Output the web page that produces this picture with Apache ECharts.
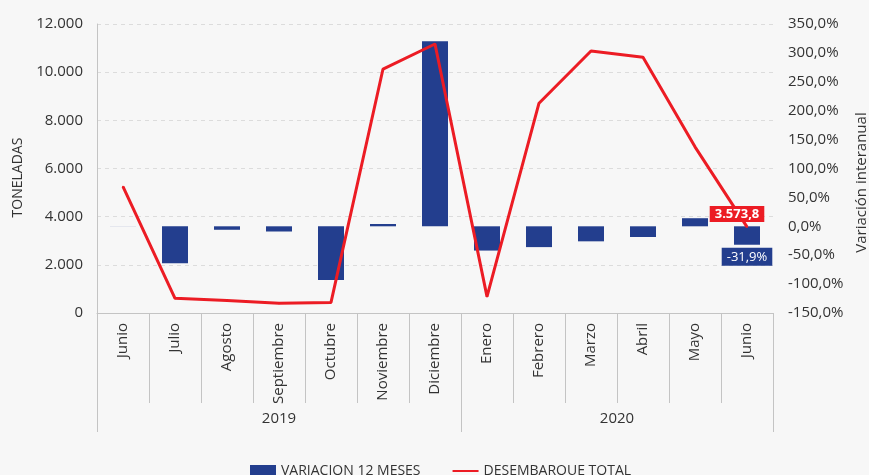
<!DOCTYPE html>
<html>
<head>
<meta charset="utf-8">
<script src="https://cdn.jsdelivr.net/npm/echarts@6/dist/echarts.min.js"></script>
<style>
  html, body { margin: 0; padding: 0; background: #f7f7f7; }
  #chart { width: 869px; height: 475px; }
</style>
</head>
<body>
<div id="chart"></div>
<script>
// meses (jun 2019 - jun 2020)
var months = ['Junio', 'Julio', 'Agosto', 'Septiembre', 'Octubre', 'Noviembre', 'Diciembre',
              'Enero', 'Febrero', 'Marzo', 'Abril', 'Mayo', 'Junio'];
// grupos de años y cuántos meses tiene cada uno
var years = ['2019', '2020'];
var yearCounts = [7, 6];
// variación 12 meses (%), eje derecho
var variacion = [0.5, -64, -6, -9, -93, 4, 320, -42, -36, -26, -18.5, 14, -31.9];
// desembarque total (toneladas), eje izquierdo
var desembarque = [5245, 610, 520, 400, 440, 10130, 11170, 680, 8710, 10880, 10620, 6900, 3573.8];

var BLUE = '#233e8e';
var RED = '#ec1c24';
var FONT = 'Open Sans';
var GRAY = '#c4c4c4';

function fmtMiles(v) {
    return String(Math.round(v)).replace(/\B(?=(\d{3})+(?!\d))/g, '.');
}
function fmtDec(v) {
    var s = v.toFixed(1).split('.');
    return s[0].replace(/\B(?=(\d{3})+(?!\d))/g, '.') + ',' + s[1];
}

// límites y centros de los grupos de años
var yearBounds = [0];
var yearCenters = [];
for (var i = 0; i < yearCounts.length; i++) {
    var start = yearBounds[yearBounds.length - 1];
    yearCenters.push(start + yearCounts[i] / 2);
    yearBounds.push(start + yearCounts[i]);
}

var barData = variacion.map(function (v, i) {
    if (i === variacion.length - 1) {
        return {
            value: v,
            label: {
                show: true, position: 'bottom', distance: 3,
                formatter: function (p) { return fmtDec(p.value) + '%'; },
                color: '#fff', backgroundColor: BLUE, fontSize: 13, fontFamily: FONT,
                padding: [3, 5, 2, 5]
            }
        };
    }
    if (i === 0) return { value: v, itemStyle: { color: '#b9c0d8' } };
    return v;
});

var lineData = desembarque.map(function (v, i) {
    if (i === desembarque.length - 1) {
        return {
            value: v,
            label: {
                show: true, position: 'top', distance: 4, offset: [-10, 0],
                formatter: function (p) { return fmtDec(p.value); },
                color: '#fff', backgroundColor: RED, fontSize: 13, fontWeight: 'bold',
                fontFamily: FONT, padding: [2, 5, 1, 5]
            }
        };
    }
    return v;
});

var chart = echarts.init(document.getElementById('chart'));
chart.setOption({
    backgroundColor: '#f7f7f7',
    textStyle: { fontFamily: FONT },
    animation: false,
    grid: { left: 97, right: 96, top: 24, bottom: 162, outerBoundsMode: 'none' },
    legend: {
        left: 245, top: 459,
        itemWidth: 26, itemHeight: 12, itemGap: 31,
        textStyle: { color: '#333', fontSize: 14, fontFamily: FONT },
        data: [
            { name: 'VARIACION 12 MESES', icon: 'rect' },
            { name: 'DESEMBARQUE TOTAL', itemStyle: { opacity: 0 } }
        ]
    },
    xAxis: [{
        type: 'category',
        data: months,
        axisLine: { onZero: false, lineStyle: { color: GRAY } },
        axisTick: { show: true, interval: 0, length: 90, lineStyle: { color: GRAY } },
        axisLabel: { interval: 0, rotate: 90, margin: 10, color: '#333', fontSize: 15, fontFamily: FONT }
    }, {
        type: 'value',
        position: 'bottom',
        min: 0, max: months.length,
        splitLine: { show: false },
        axisLine: { show: false, onZero: false },
        axisTick: { show: true, length: 119, customValues: yearBounds, lineStyle: { color: GRAY } },
        axisLabel: {
            customValues: yearCenters, margin: 98, color: '#333', fontSize: 15, fontFamily: FONT,
            formatter: function (v) { return years[yearCenters.indexOf(v)]; }
        }
    }],
    yAxis: [{
        type: 'value',
        min: 0, max: 12000, interval: 2000,
        name: 'TONELADAS', nameLocation: 'middle', nameGap: 72, nameRotate: 90,
        nameTextStyle: { color: '#333', fontSize: 14, fontFamily: FONT, padding: [0, 18, 0, 0] },
        axisLine: { show: true, lineStyle: { color: GRAY } },
        axisTick: { show: false },
        axisLabel: { margin: 14, color: '#333', fontSize: 15, formatter: fmtMiles },
        splitLine: { lineStyle: { color: '#dcdcdc', type: [4, 4] } }
    }, {
        type: 'value',
        min: -150, max: 350, interval: 50,
        name: 'Variación interanual', nameLocation: 'middle', nameGap: 80, nameRotate: 90,
        nameTextStyle: { color: '#333', fontSize: 15, fontFamily: FONT, padding: [0, 28, 0, 0] },
        axisLine: { show: false },
        axisTick: { show: false },
        axisLabel: { margin: 15, color: '#333', fontSize: 15, formatter: function (v) { return fmtDec(v) + '%'; } },
        splitLine: { show: false }
    }],
    series: [{
        name: 'VARIACION 12 MESES',
        type: 'bar',
        yAxisIndex: 1,
        barWidth: '50%',
        itemStyle: { color: BLUE },
        data: barData
    }, {
        name: 'DESEMBARQUE TOTAL',
        type: 'line',
        yAxisIndex: 0,
        symbol: 'circle',
        symbolSize: 2,
        lineStyle: { color: RED, width: 3 },
        itemStyle: { color: RED },
        data: lineData,
        z: 3
    }]
});
</script>
</body>
</html>
